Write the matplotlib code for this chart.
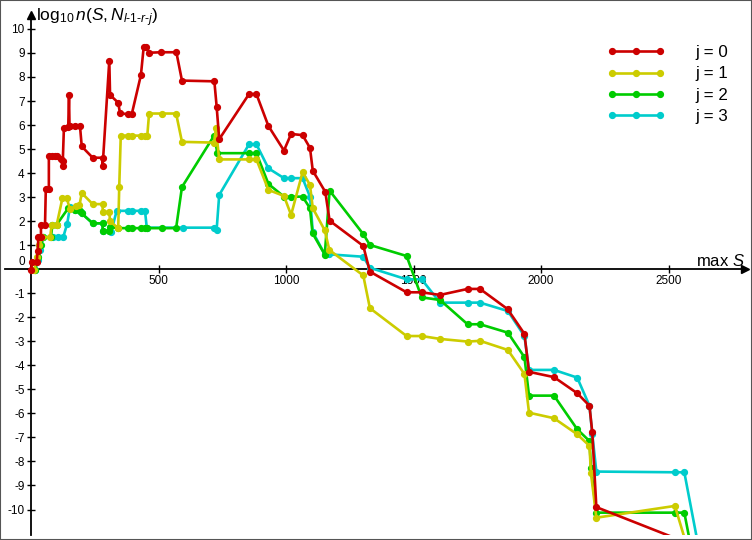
import matplotlib
matplotlib.use("Agg")
import matplotlib.pyplot as plt
import matplotlib.transforms as mtransforms
from matplotlib.patches import Rectangle

plt.rcParams['font.family'] = ['Liberation Sans', 'DejaVu Sans']
plt.rcParams['mathtext.fontset'] = 'custom'
plt.rcParams['mathtext.rm'] = 'Liberation Sans'
plt.rcParams['mathtext.it'] = 'Liberation Sans:italic'
plt.rcParams['axes.unicode_minus'] = False

# ---------------- data ----------------
x_j0 = [0, 5, 22, 26, 29, 39, 39, 55, 58, 70, 70, 81, 94, 101, 118, 124, 124, 129, 146, 149, 151,
        173, 192, 199, 242, 281, 281, 307, 310, 342, 349, 382, 395, 431, 442, 449, 463, 511, 570,
        592, 719, 728, 738, 855, 884, 931, 992, 1020, 1065, 1094, 1105, 1154, 1171, 1303, 1329,
        1473, 1532, 1604, 1712, 1761, 1869, 1935, 1953, 2051, 2142, 2190, 2201, 2217, 2600]
y_j0 = [-0.05, 0.3, 0.3, 0.76, 1.33, 1.33, 1.86, 1.86, 3.33, 3.33, 4.73, 4.73, 4.73, 4.73, 4.58,
        4.5, 4.3, 5.88, 5.92, 7.25, 5.96, 5.96, 5.96, 5.11, 4.64, 4.64, 4.31, 8.68, 7.25, 6.93,
        6.49, 6.45, 6.45, 8.08, 9.26, 9.26, 9.01, 9.03, 9.03, 7.85, 7.82, 6.77, 5.41, 7.29, 7.29,
        5.96, 4.94, 5.63, 5.58, 5.05, 4.1, 3.22, 2.02, 0.97, -0.1, -0.96, -0.96, -1.07, -0.82,
        -0.82, -1.66, -2.69, -4.27, -4.49, -5.16, -5.68, -6.78, -9.9, -11.5]

x_j1 = [12, 25, 33, 44, 75, 81, 101, 123, 140, 153, 176, 190, 199, 242, 281, 281, 307, 310, 342,
        346, 352, 382, 395, 431, 447, 456, 463, 513, 569, 592, 718, 725, 738, 855, 884, 931, 992,
        1020, 1065, 1094, 1105, 1152, 1170, 1303, 1329, 1473, 1532, 1604, 1712, 1761, 1870, 1935,
        1953, 2051, 2142, 2190, 2196, 2217, 2525, 2600]
y_j1 = [-0.05, 0.5, 1.0, 1.33, 1.33, 1.86, 1.86, 2.95, 2.95, 2.5, 2.64, 2.66, 3.17, 2.71, 2.71,
        2.38, 2.38, 1.99, 1.71, 3.44, 5.56, 5.56, 5.56, 5.56, 5.56, 5.56, 6.48, 6.48, 6.48, 5.3,
        5.27, 5.87, 4.57, 4.57, 4.57, 3.3, 3.05, 2.26, 4.04, 3.51, 2.54, 1.62, 0.8, -0.26, -1.62,
        -2.78, -2.78, -2.9, -3.01, -2.98, -3.36, -4.36, -5.97, -6.2, -6.87, -7.35, -8.49, -10.34,
        -9.85, -12.5]

x_j2 = [15, 28, 38, 48, 78, 84, 101, 146, 173, 192, 199, 242, 281, 281, 307, 310, 342, 382, 395,
        431, 447, 456, 513, 569, 592, 718, 731, 855, 884, 931, 992, 1020, 1065, 1094, 1104, 1152,
        1171, 1303, 1329, 1473, 1532, 1604, 1712, 1761, 1870, 1935, 1953, 2051, 2142, 2190, 2196,
        2217, 2525, 2562, 2600]
y_j2 = [-0.05, 0.5, 1.0, 1.33, 1.33, 1.86, 1.86, 2.54, 2.47, 2.43, 2.32, 1.91, 1.91, 1.6, 1.6,
        1.75, 1.71, 1.71, 1.71, 1.71, 1.71, 1.71, 1.71, 1.71, 3.42, 5.56, 4.83, 4.83, 4.83, 3.55,
        3.02, 3.02, 3.02, 2.54, 1.5, 0.61, 3.27, 1.46, 1.01, 0.55, -1.17, -1.28, -2.29, -2.29,
        -2.64, -3.66, -5.26, -5.26, -6.66, -7.15, -8.26, -10.13, -10.13, -10.13, -12.2]

x_j3 = [16, 28, 35, 48, 88, 107, 127, 142, 153, 173, 192, 199, 242, 281, 281, 314, 336, 382, 395,
        431, 447, 454, 595, 719, 728, 738, 855, 884, 931, 992, 1020, 1065, 1094, 1105, 1152, 1169,
        1303, 1329, 1473, 1532, 1604, 1712, 1761, 1870, 1935, 1953, 2051, 2142, 2190, 2201, 2217,
        2525, 2562, 2640]
y_j3 = [-0.05, 0.4, 0.8, 1.33, 1.33, 1.33, 1.36, 1.9, 2.6, 2.47, 2.43, 2.32, 1.91, 1.91, 1.6,
        1.55, 2.43, 2.43, 2.43, 2.43, 2.43, 1.73, 1.73, 1.73, 1.65, 3.09, 5.2, 5.2, 4.2, 3.79,
        3.79, 3.79, 3.02, 1.55, 0.62, 0.62, 0.52, 0.06, -0.42, -0.42, -1.39, -1.39, -1.39, -1.74,
        -2.78, -4.19, -4.19, -4.51, -5.68, -6.85, -8.42, -8.45, -8.45, -12.8]

series_labels = ['j = 0', 'j = 1', 'j = 2', 'j = 3']
series_colors = ['#cc0000', '#cccc00', '#00cc00', '#00cccc']
x_ticks = [500, 1000, 1500, 2000, 2500]
y_ticks = list(range(-10, 11))

# ---------------- figure ----------------
W, H = 752, 540
fig = plt.figure(figsize=(W / 100, H / 100), dpi=100)
ax = fig.add_axes([5 / W, 5 / H, 740 / W, 520 / H])
ax.set_xlim(-102, 2800)
ax.set_ylim(-11.06, 10.58)

xs = [x_j0, x_j1, x_j2, x_j3]
ys = [y_j0, y_j1, y_j2, y_j3]
handles = []
for i in [3, 2, 1, 0]:
    h, = ax.plot(xs[i], ys[i], color=series_colors[i], lw=1.9, marker='o', ms=4.2,
                 label=series_labels[i], zorder=3 + (3 - i))
    handles.append(h)
handles = handles[::-1]

leg = ax.legend(handles=handles, loc='upper right',
                bbox_to_anchor=(728 / W, 1 - 45 / H), bbox_transform=fig.transFigure,
                frameon=False, numpoints=3, handlelength=3.45, handletextpad=1.75,
                fontsize=12.2, labelspacing=0.38, borderpad=0, borderaxespad=0)

# axes through origin
for s in ['top', 'right']:
    ax.spines[s].set_visible(False)
ax.spines['left'].set_position(('data', 0))
ax.spines['bottom'].set_position(('data', 0))
ax.spines['left'].set_linewidth(1.3)
ax.spines['bottom'].set_linewidth(1.3)
ax.plot(1, 0, '>k', ms=6, transform=ax.get_yaxis_transform(), clip_on=False)
ax.plot(0, 1, '^k', ms=6, transform=ax.get_xaxis_transform(), clip_on=False)

ax.set_xticks(x_ticks, [str(v) for v in x_ticks])
ax.set_yticks(y_ticks, [str(v) for v in y_ticks])
ax.tick_params(axis='both', direction='inout', length=6, width=1, labelsize=8.5, pad=1.5)

offset = mtransforms.ScaledTranslation(0, 6 / 72, fig.dpi_scale_trans)
for lbl in ax.get_yticklabels():
    if lbl.get_text() == '0':
        lbl.set_transform(lbl.get_transform() + offset)

fig.text(36 / W, 1 - 18 / H, r'log$_{10}\,n(S,N_{l\text{-}1\text{-}r\text{-}j})$',
         fontsize=12.5, ha='left', va='center')
ax.text(1.0, 0.0, r'max $S$', transform=ax.get_yaxis_transform(), fontsize=12,
        ha='right', va='bottom')

fig.add_artist(Rectangle((0, 0), 1, 1, transform=fig.transFigure, fill=False,
                         edgecolor='#555555', lw=1.5))

fig.savefig('out.png', dpi=100)
